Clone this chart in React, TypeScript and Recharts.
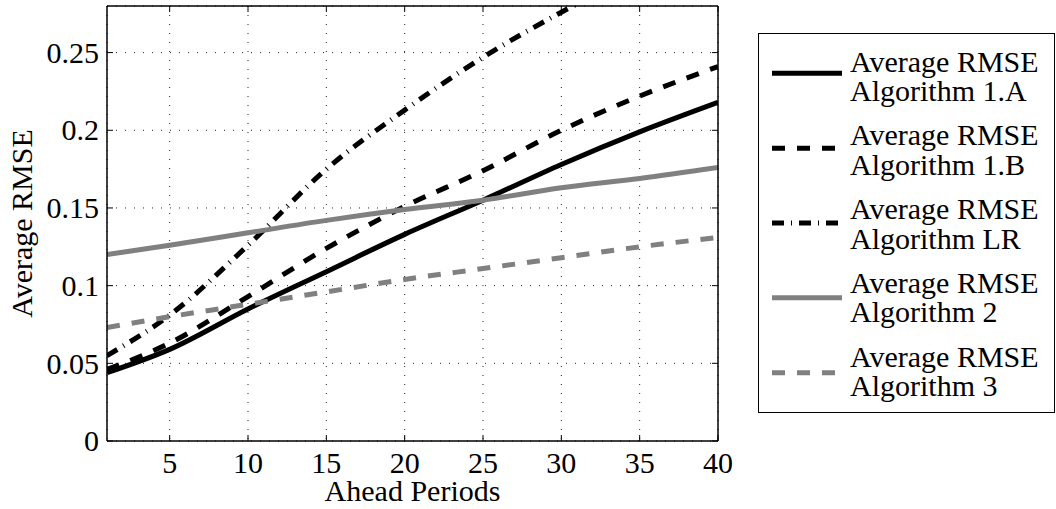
import React from 'react';
import { LineChart, Line, XAxis, YAxis, CartesianGrid, Legend } from 'recharts';

const periods = [1, 5, 10, 15, 20, 25, 30, 35, 40];
const rmse1A = [0.044, 0.059, 0.085, 0.109, 0.133, 0.155, 0.178, 0.199, 0.218];
const rmse1B = [0.046, 0.063, 0.093, 0.124, 0.151, 0.174, 0.2, 0.222, 0.241];
const rmseLR = [0.055, 0.081, 0.126, 0.175, 0.213, 0.247, 0.276, 0.302, 0.33];
const rmse2 = [0.12, 0.126, 0.134, 0.142, 0.149, 0.155, 0.163, 0.169, 0.176];
const rmse3 = [0.073, 0.08, 0.088, 0.096, 0.104, 0.111, 0.118, 0.125, 0.131];

const xTicks = [5, 10, 15, 20, 25, 30, 35, 40];
const yTicks = [0, 0.05, 0.1, 0.15, 0.2, 0.25];

const seriesNames = [
  'Average RMSE Algorithm 1.A',
  'Average RMSE Algorithm 1.B',
  'Average RMSE Algorithm LR',
  'Average RMSE Algorithm 2',
  'Average RMSE Algorithm 3',
];

const data = periods.map((p, i) => ({
  p,
  a: rmse1A[i],
  b: rmse1B[i],
  lr: rmseLR[i],
  c2: rmse2[i],
  c3: rmse3[i],
}));

const seriesStyle = [
  { key: 'a', color: '#000000', dash: undefined as string | undefined },
  { key: 'b', color: '#000000', dash: '13 12' },
  { key: 'lr', color: '#000000', dash: '12 7 1 7' },
  { key: 'c2', color: '#808080', dash: undefined },
  { key: 'c3', color: '#808080', dash: '13 12' },
];

const FONT = "'Liberation Serif', 'Times New Roman', serif";
const FS = 30;
const PLOT_LEFT = 107;
const PLOT_RIGHT = 718;
const PLOT_TOP = 6;
const PLOT_BOTTOM = 441;
const W = 1056;
const H = 509;

const BottomTick = (props: any) => {
  const cx = props.payload.coordinate;
  return (
    <g>
      <line x1={cx} x2={cx} y1={PLOT_BOTTOM} y2={PLOT_BOTTOM - 6} stroke="#000" strokeWidth={1} />
      <text x={cx} y={473} textAnchor="middle" fontFamily={FONT} fontSize={FS} fill="#000">
        {props.payload.value}
      </text>
    </g>
  );
};

const TopTick = (props: any) => {
  const cx = props.payload.coordinate;
  return <line x1={cx} x2={cx} y1={PLOT_TOP} y2={PLOT_TOP + 6} stroke="#000" strokeWidth={1} />;
};

const LeftTick = (props: any) => {
  const cy = props.payload.coordinate;
  return (
    <g>
      <line x1={PLOT_LEFT} x2={PLOT_LEFT + 6} y1={cy} y2={cy} stroke="#000" strokeWidth={1} />
      <text x={99} y={cy} dy="0.34em" textAnchor="end" fontFamily={FONT} fontSize={FS} fill="#000">
        {String(props.payload.value)}
      </text>
    </g>
  );
};

const RightTick = (props: any) => {
  const cy = props.payload.coordinate;
  return <line x1={PLOT_RIGHT} x2={PLOT_RIGHT - 6} y1={cy} y2={cy} stroke="#000" strokeWidth={1} />;
};

const renderLegend = (props: any) => {
  const payload = [...(props.payload || [])].sort(
    (p: any, q: any) =>
      seriesStyle.findIndex((s) => s.key === p.dataKey) - seriesStyle.findIndex((s) => s.key === q.dataKey)
  );
  return (
    <svg width={298} height={381} style={{ display: 'block' }}>
      <rect x={0.5} y={0.5} width={296} height={379} fill="#fff" stroke="#000" strokeWidth={1} />
      {payload.map((item: any, i: number) => {
        const st = seriesStyle.find((s) => s.key === item.dataKey) || seriesStyle[i];
        const name = String(item.value);
        const idx = name.indexOf(' Algorithm');
        const l1 = idx >= 0 ? name.slice(0, idx) : name;
        const l2 = idx >= 0 ? name.slice(idx + 1) : '';
        const sy = 40.3 + 74.85 * i;
        const ty = 38.7 + 73.75 * i;
        return (
          <g key={i}>
            <line x1={14} x2={84} y1={sy} y2={sy} stroke={st.color} strokeWidth={5} strokeDasharray={st.dash} />
            <text x={92} y={ty} fontFamily={FONT} fontSize={FS} fill="#000">{l1}</text>
            <text x={92} y={ty + 29.5} fontFamily={FONT} fontSize={FS} fill="#000">{l2}</text>
          </g>
        );
      })}
    </svg>
  );
};

export default function App() {
  return (
    <div style={{ position: 'absolute', left: 0, top: 0, width: W, height: H, background: '#fff' }}>
      <LineChart
        width={W}
        height={H}
        data={data}
        margin={{ top: PLOT_TOP - 1, right: W - PLOT_RIGHT - 1, left: 0, bottom: 0 }}
      >
        <CartesianGrid stroke="#222" strokeWidth={1} strokeDasharray="1 8" />
        <XAxis
          dataKey="p"
          type="number"
          domain={[1, 40]}
          ticks={xTicks}
          height={H - PLOT_BOTTOM}
          axisLine={{ stroke: '#000', strokeWidth: 1.5 }}
          tickLine={false}
          tick={<BottomTick />}
          interval={0}
          allowDataOverflow
          label={{
            content: (p: any) => (
              <text
                x={p.viewBox.x + p.viewBox.width / 2}
                y={501}
                textAnchor="middle"
                fontFamily={FONT}
                fontSize={FS}
                fill="#000"
              >
                Ahead Periods
              </text>
            ),
          }}
        />
        <XAxis
          xAxisId="top"
          orientation="top"
          dataKey="p"
          type="number"
          domain={[1, 40]}
          ticks={xTicks}
          height={1}
          axisLine={{ stroke: '#000', strokeWidth: 1.5 }}
          tickLine={false}
          tick={<TopTick />}
          interval={0}
        />
        <YAxis
          type="number"
          domain={[0, 0.28]}
          ticks={yTicks}
          width={PLOT_LEFT}
          allowDataOverflow
          axisLine={{ stroke: '#000', strokeWidth: 1.5 }}
          tickLine={false}
          tick={<LeftTick />}
          interval={0}
          label={{
            content: (p: any) => {
              const cy = p.viewBox.y + p.viewBox.height / 2;
              return (
                <text
                  x={32}
                  y={cy}
                  transform={`rotate(-90, 32, ${cy})`}
                  textAnchor="middle"
                  fontFamily={FONT}
                  fontSize={FS}
                  fill="#000"
                >
                  Average RMSE
                </text>
              );
            },
          }}
        />
        <YAxis
          yAxisId="right"
          orientation="right"
          type="number"
          domain={[0, 0.28]}
          ticks={yTicks}
          width={1}
          allowDataOverflow
          axisLine={{ stroke: '#000', strokeWidth: 1.5 }}
          tickLine={false}
          tick={<RightTick />}
          interval={0}
        />
        {seriesStyle.map((s, i) => (
          <Line
            key={s.key}
            dataKey={s.key}
            name={seriesNames[i]}
            type="monotone"
            stroke={s.color}
            strokeWidth={5}
            strokeDasharray={s.dash}
            dot={false}
            activeDot={false}
            isAnimationActive={false}
          />
        ))}
        <Legend
          layout="vertical"
          align="center"
          verticalAlign="middle"
          itemSorter={null as any}
          wrapperStyle={{ left: 758, top: 33, width: 298, height: 381 }}
          content={renderLegend}
        />
      </LineChart>
    </div>
  );
}
